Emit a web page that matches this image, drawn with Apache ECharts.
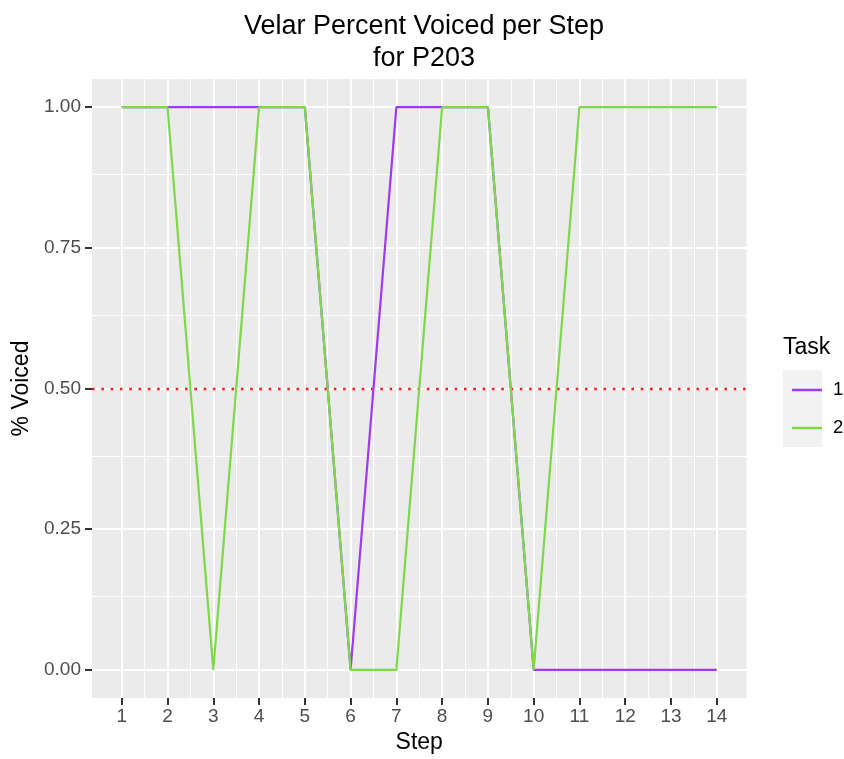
<!DOCTYPE html>
<html>
<head>
<meta charset="utf-8">
<script src="https://cdn.jsdelivr.net/npm/echarts@6/dist/echarts.min.js"></script>
<style>
html,body{margin:0;padding:0;background:#fff;}
#chart{width:844px;height:759px;}
</style>
</head>
<body>
<div id="chart"></div>
<script>
const steps = [1,2,3,4,5,6,7,8,9,10,11,12,13,14];
const task1 = [1,1,1,1,1,0,1,1,1,0,0,0,0,0];
const task2 = [1,1,0,1,1,0,0,1,1,0,1,1,1,1];
const yTicks = [0, 0.25, 0.5, 0.75, 1];
const yTickLabels = ['0.00', '0.25', '0.50', '0.75', '1.00'];
const refLine = 0.5;
const taskNames = ['1', '2'];

const FONT = 'Liberation Sans, Arial, Helvetica, sans-serif';
const xMinor = steps.slice(0, -1).map((s, i) => (s + steps[i + 1]) / 2);
const yMinor = yTicks.slice(0, -1).map((s, i) => (s + yTicks[i + 1]) / 2);

const gridLines = [];
steps.forEach(v => gridLines.push({xAxis: v, lineStyle: {width: 2}}));
xMinor.forEach(v => gridLines.push({xAxis: v, lineStyle: {width: 1}}));
yTicks.forEach(v => gridLines.push({yAxis: v, lineStyle: {width: 2}}));
yMinor.forEach(v => gridLines.push({yAxis: v, lineStyle: {width: 1}}));

const chart = echarts.init(document.getElementById('chart'), null, {renderer: 'canvas'});
chart.setOption({
  animation: false,
  backgroundColor: '#ffffff',
  textStyle: {fontFamily: FONT},
  title: {
    text: 'Velar Percent Voiced per Step\nfor P203',
    left: 419, top: 6, textAlign: 'center',
    textStyle: {fontSize: 27, fontWeight: 'normal', color: '#000', lineHeight: 32, fontFamily: FONT}
  },
  grid: {
    left: 92, right: 97.5, top: 79, bottom: 57.3,
    show: true, backgroundColor: '#EBEBEB', borderWidth: 0, containLabel: false
  },
  xAxis: {
    type: 'value', min: 0.35, max: 14.65,
    name: 'Step', nameLocation: 'middle', nameGap: 33,
    nameTextStyle: {fontSize: 23, color: '#000', fontFamily: FONT},
    axisLine: {show: false, onZero: false},
    axisTick: {show: true, inside: false, customValues: steps, length: 7, lineStyle: {color: '#333333', width: 2}},
    axisLabel: {customValues: steps, fontSize: 19, color: '#4D4D4D', margin: 9, fontFamily: FONT},
    splitLine: {show: false}
  },
  yAxis: {
    type: 'value', min: -0.05, max: 1.05,
    name: '% Voiced', nameLocation: 'middle', nameGap: 57, nameRotate: 90,
    nameTextStyle: {fontSize: 23, color: '#000', fontFamily: FONT},
    axisLine: {show: false, onZero: false},
    axisTick: {show: true, inside: false, customValues: yTicks, length: 7, lineStyle: {color: '#333333', width: 2}},
    axisLabel: {customValues: yTicks, fontSize: 19, color: '#4D4D4D', margin: 11, fontFamily: FONT,
      formatter: v => yTickLabels[yTicks.indexOf(v)] !== undefined ? yTickLabels[yTicks.indexOf(v)] : v.toFixed(2)},
    splitLine: {show: false}
  },
  legend: {
    orient: 'vertical', left: 787, top: 375,
    icon: 'rect', itemWidth: 30, itemHeight: 2.5, itemGap: 18,
    data: taskNames,
    textStyle: {fontSize: 18.5, color: '#000', lineHeight: 20, padding: [0, 0, 0, 6], fontFamily: FONT}
  },
  graphic: [
    {type: 'rect', left: 783, top: 370, shape: {width: 39, height: 77}, style: {fill: '#F2F2F2'}, z: -1, silent: true},
    {type: 'text', left: 783, top: 336, style: {text: 'Task', fontSize: 23, fill: '#000', font: '23px ' + FONT}, silent: true}
  ],
  series: [
    {
      name: '_grid', type: 'line', data: [], silent: true, z: 1,
      markLine: {silent: true, z: 1, symbol: ['none', 'none'], label: {show: false},
        lineStyle: {color: '#FFFFFF', type: 'solid'}, data: gridLines, animation: false}
    },
    {
      name: '_ref', type: 'line', data: [], silent: true, z: 2,
      markLine: {silent: true, z: 2, symbol: ['none', 'none'], label: {show: false},
        lineStyle: {color: '#FF1A1A', type: [2.6, 6.7], width: 2.4}, data: [{yAxis: refLine}], animation: false}
    },
    {
      name: taskNames[0], type: 'line', z: 3,
      data: steps.map((s, i) => [s, task1[i]]),
      showSymbol: false, symbol: 'none',
      lineStyle: {color: '#9E3BEE', width: 2.2}, itemStyle: {color: '#9E3BEE'}
    },
    {
      name: taskNames[1], type: 'line', z: 4,
      data: steps.map((s, i) => [s, task2[i]]),
      showSymbol: false, symbol: 'none',
      lineStyle: {color: '#7DD84A', width: 2.2}, itemStyle: {color: '#7DD84A'}
    }
  ]
});
</script>
</body>
</html>
